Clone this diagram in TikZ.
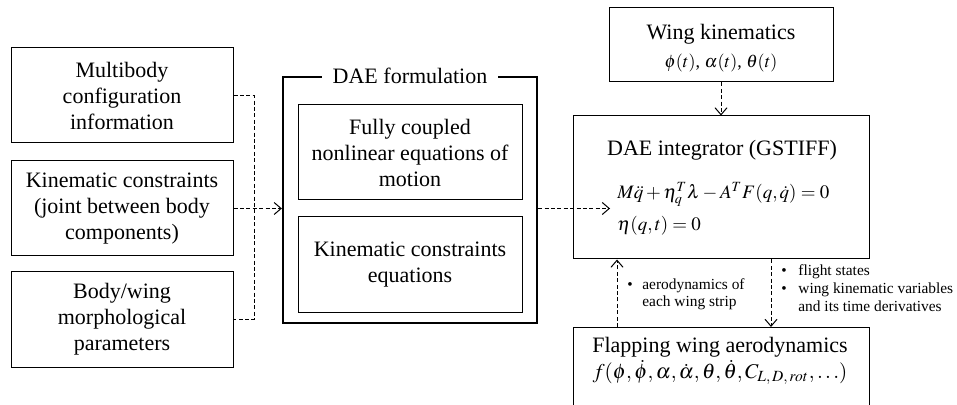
\documentclass[tikz,border=0pt]{standalone}
\usepackage[no-math]{fontspec}
\usepackage{mathptmx}
\setmainfont{Liberation Serif}
\usetikzlibrary{arrows.meta}
\begin{document}
\begin{tikzpicture}[x=0.5pt,y=-0.5pt,
  font=\fontsize{11}{13}\selectfont,
  box/.style={draw, line width=0.5pt, inner sep=0pt, align=center},
  conn/.style={line width=0.5pt, dash pattern=on 2pt off 1.2pt},
  arr/.style={conn, -{Straight Barb[length=3.5pt,width=6pt]}},
  small/.style={anchor=west, inner sep=0pt, font=\fontsize{7.7}{8.5}\selectfont}]
\clip (0,0) rectangle (957,405);
% left input boxes
\node[box, minimum width=111pt, minimum height=47.5pt] (m1) at (122,95.5) {Multibody\\configuration\\information};
\node[box, minimum width=111pt, minimum height=47.5pt] (m2) at (122,208.5) {Kinematic constraints\\(joint between body\\components)};
\node[box, minimum width=111pt, minimum height=47.5pt] (m3) at (122,319.5) {Body/wing\\morphological\\parameters};
% DAE formulation
\node[draw, line width=1.1pt, minimum width=127pt, minimum height=123pt, inner sep=0pt] (dae) at (410,200) {};
\node[fill=white, inner xsep=5.5pt, inner ysep=1pt] (daet) at (dae.north) {DAE formulation};
\node[box, minimum width=112pt, minimum height=47.5pt] (eom) at (410,152.5) {Fully coupled\\nonlinear equations of\\motion};
\node[box, minimum width=112pt, minimum height=48pt] (kce) at (410,265) {Kinematic constraints\\equations};
% right column
\node[box, minimum width=112pt, minimum height=37pt] (wk) at (721,45) {};
\node[align=center, inner sep=0pt] (wkt) at (721,48) {Wing kinematics\\[1pt]{\fontsize{9}{11}\selectfont$\phi(t)$, $\alpha(t)$, $\theta(t)$}};
\node[box, minimum width=148pt, minimum height=71.5pt] (integ) at (721,187.5) {};
\node (integt) at (722,150) {DAE integrator (GSTIFF)};
\node[anchor=west, inner sep=0pt, align=left, font=\fontsize{9.5}{12}\selectfont] (integeq) at (617,209) {$M\ddot{q}+\eta_q^T\lambda-A^TF(q,\dot{q})=0$\\[4pt]$\eta(q,t)=0$};
\node[box, minimum width=148pt, minimum height=50pt, anchor=north] (flap) at (721,327) {};
\node[align=center, inner sep=0pt] (flapt) at (720,361) {Flapping wing aerodynamics\\[0pt]{\fontsize{10.5}{12}\selectfont$f(\phi,\dot{\phi},\alpha,\dot{\alpha},\theta,\dot{\theta},C_{L,\,D,\,rot},\ldots)$}};
% connectors
\coordinate (jx) at (254,0);
\draw[conn] (m1.east) -| (jx |- m3.east) -- (m3.east);
\draw[arr] (m2.east) -- (m2.east -| dae.west);
\coordinate (ein) at (610,0);
\draw[arr] (dae.east |- m2.east) -- (ein |- m2.east);
\draw[arr] (wk.south) -- (integ.north);
\coordinate (ua) at (617,0);
\coordinate (da) at (771,0);
\draw[arr] (ua |- flap.north) -- (ua |- integ.south);
\draw[arr] (da |- integ.south) -- (da |- flap.north);
% labels
\node[small] (lblup) at (627,295) {\begin{tabular}{@{}l@{\hspace{4.8pt}}l@{}}•&aerodynamics of\\&each wing strip\end{tabular}};
\node[small, font=\fontsize{7.7}{8.8}\selectfont] (lbldn) at (781,290) {\begin{tabular}{@{}l@{\hspace{5.8pt}}l@{}}•&flight states\\•&wing kinematic variables\\&and its time derivatives\end{tabular}};
\end{tikzpicture}
\end{document}
